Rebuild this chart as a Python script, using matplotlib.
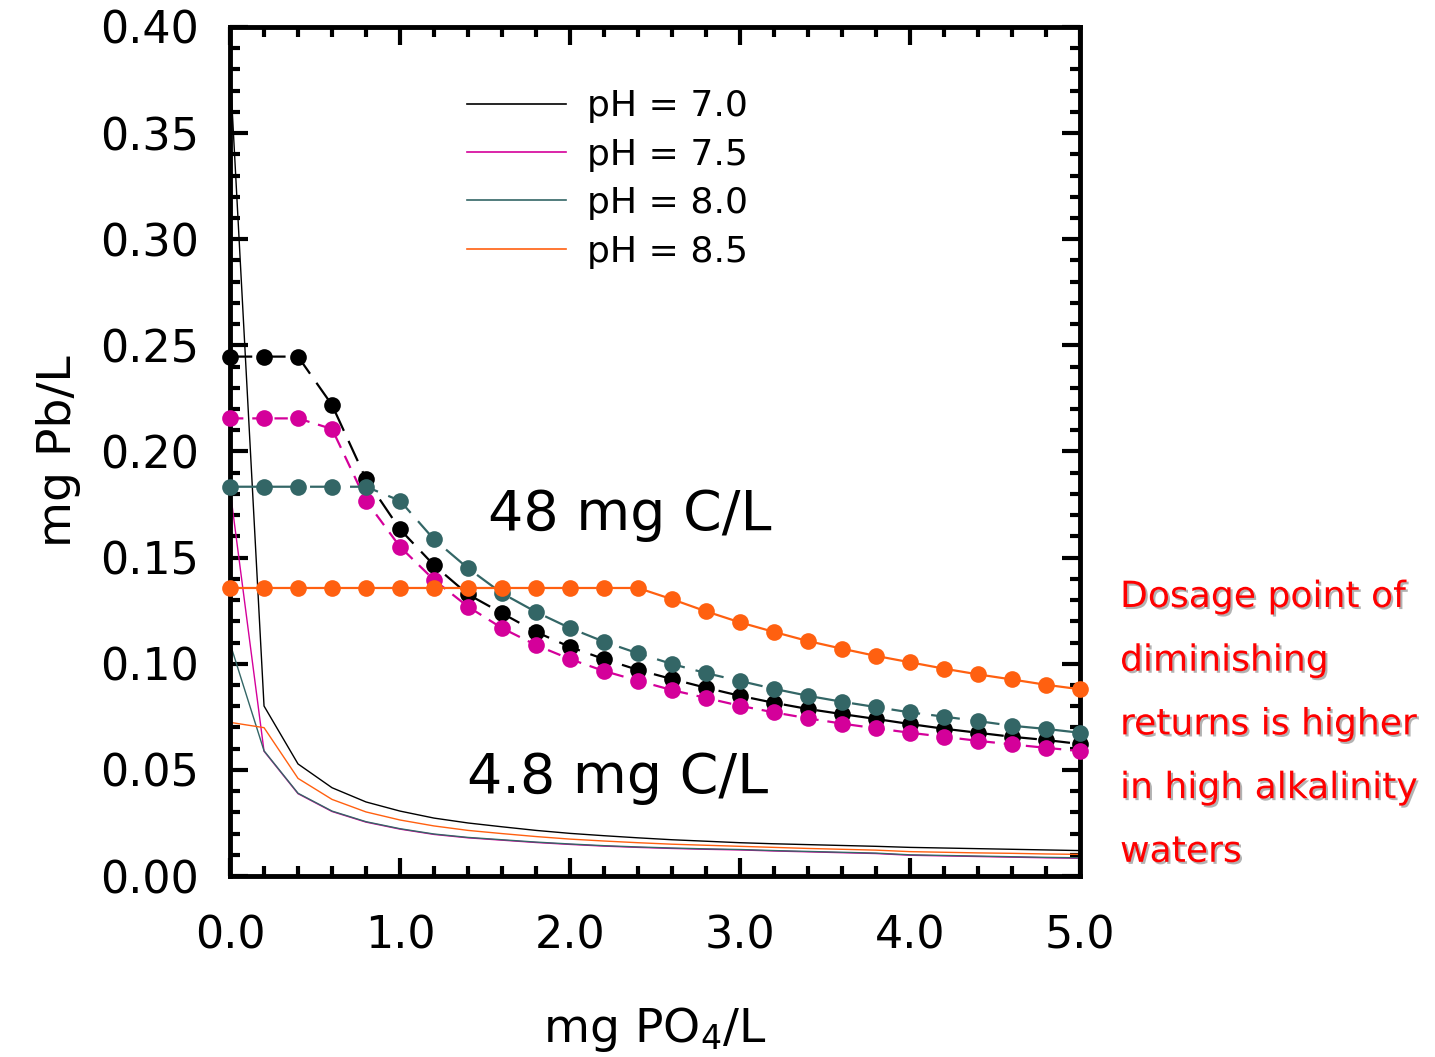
import matplotlib
matplotlib.use('Agg')
import matplotlib.pyplot as plt
import matplotlib.patheffects as pe
from matplotlib.ticker import MultipleLocator, FormatStrFormatter
from matplotlib.lines import Line2D

# Phosphate dose, mg PO4/L
dose = [0.0, 0.2, 0.4, 0.6, 0.8, 1.0, 1.2, 1.4, 1.6, 1.8, 2.0, 2.2, 2.4,
        2.6, 2.8, 3.0, 3.2, 3.4, 3.6, 3.8, 4.0, 4.2, 4.4, 4.6, 4.8, 5.0]

ph_labels = ['pH = 7.0', 'pH = 7.5', 'pH = 8.0', 'pH = 8.5']
colors = ['black', '#d4009a', '#336666', '#ff6010']

# Pb solubility, mg Pb/L, at 48 mg C/L (high alkalinity)
pb_high_70 = [0.2447, 0.2447, 0.2447, 0.2219, 0.1870, 0.1633, 0.1464, 0.1327, 0.1238,
              0.1150, 0.1079, 0.1022, 0.0971, 0.0928, 0.0887, 0.0849, 0.0816, 0.0787,
              0.0763, 0.0740, 0.0716, 0.0694, 0.0675, 0.0656, 0.0641, 0.0622]
pb_high_75 = [0.2156, 0.2156, 0.2156, 0.2106, 0.1768, 0.1551, 0.1395, 0.1269, 0.1168,
              0.1088, 0.1022, 0.0966, 0.0920, 0.0876, 0.0839, 0.0802, 0.0771, 0.0743,
              0.0718, 0.0696, 0.0675, 0.0656, 0.0637, 0.0620, 0.0604, 0.0589]
pb_high_80 = [0.1834, 0.1834, 0.1834, 0.1834, 0.1834, 0.1768, 0.1586, 0.1450, 0.1332,
              0.1244, 0.1168, 0.1104, 0.1049, 0.0999, 0.0956, 0.0919, 0.0882, 0.0849,
              0.0821, 0.0796, 0.0771, 0.0751, 0.0730, 0.0708, 0.0693, 0.0675]
pb_high_85 = [0.1357, 0.1357, 0.1357, 0.1357, 0.1357, 0.1357, 0.1357, 0.1357, 0.1357,
              0.1357, 0.1357, 0.1357, 0.1357, 0.1304, 0.1247, 0.1195, 0.1150, 0.1107,
              0.1071, 0.1037, 0.1007, 0.0977, 0.0950, 0.0926, 0.0901, 0.0880]

# Pb solubility, mg Pb/L, at 4.8 mg C/L (low alkalinity)
pb_low_70 = [0.3800, 0.0801, 0.0528, 0.0416, 0.0349, 0.0306, 0.0273, 0.0250, 0.0232,
             0.0215, 0.0201, 0.0190, 0.0180, 0.0171, 0.0164, 0.0157, 0.0152, 0.0148,
             0.0144, 0.0140, 0.0135, 0.0132, 0.0129, 0.0126, 0.0123, 0.0120]
pb_low_75 = [0.1820, 0.0588, 0.0388, 0.0304, 0.0254, 0.0221, 0.0196, 0.0180, 0.0169,
             0.0158, 0.0149, 0.0141, 0.0135, 0.0130, 0.0126, 0.0123, 0.0118, 0.0114,
             0.0110, 0.0106, 0.0098, 0.0095, 0.0092, 0.0089, 0.0086, 0.0084]
pb_low_80 = [0.1096, 0.0590, 0.0390, 0.0306, 0.0256, 0.0223, 0.0198, 0.0182, 0.0171,
             0.0160, 0.0151, 0.0143, 0.0137, 0.0132, 0.0128, 0.0125, 0.0120, 0.0116,
             0.0112, 0.0108, 0.0100, 0.0097, 0.0094, 0.0091, 0.0088, 0.0086]
pb_low_85 = [0.0724, 0.0699, 0.0460, 0.0361, 0.0302, 0.0264, 0.0236, 0.0215, 0.0200,
             0.0186, 0.0174, 0.0165, 0.0157, 0.0150, 0.0145, 0.0140, 0.0135, 0.0130,
             0.0126, 0.0122, 0.0115, 0.0112, 0.0109, 0.0107, 0.0104, 0.0102]

note_lines = ['Dosage point of', 'diminishing', 'returns is higher',
              'in high alkalinity', 'waters']

high_series = [pb_high_70, pb_high_75, pb_high_80, pb_high_85]
low_series = [pb_low_70, pb_low_75, pb_low_80, pb_low_85]
dash_styles = [(0, (10, 5)), (0, (6, 4)), (0, (13, 5)), '-']

plt.rcParams['font.family'] = ['DejaVu Sans']
plt.rcParams['mathtext.default'] = 'regular'

fig = plt.figure(figsize=(14.35, 10.57), dpi=100)
ax = fig.add_axes([0.1603, 0.1712, 0.5923, 0.8033])

for vals, c in zip(low_series, colors):
    ax.plot(dose, vals, color=c, lw=1.0, zorder=2)

for vals, c, ls in zip(high_series, colors, dash_styles):
    ax.plot(dose, vals, color=c, lw=1.6, ls=ls, marker='o', ms=12,
            markeredgewidth=0, zorder=3, clip_on=False)

ax.set_xlim(0, 5)
ax.set_ylim(0, 0.40)

ax.xaxis.set_major_locator(MultipleLocator(1.0))
ax.xaxis.set_minor_locator(MultipleLocator(0.2))
ax.yaxis.set_major_locator(MultipleLocator(0.05))
ax.yaxis.set_minor_locator(MultipleLocator(0.01))
ax.xaxis.set_major_formatter(FormatStrFormatter('%.1f'))
ax.yaxis.set_major_formatter(FormatStrFormatter('%.2f'))

ax.tick_params(which='both', direction='in', top=True, right=True, width=3)
ax.tick_params(which='major', length=13, labelsize=32)
ax.tick_params(which='minor', length=7)
ax.tick_params(axis='x', which='major', pad=28)
ax.tick_params(axis='y', which='major', pad=22)
for s in ax.spines.values():
    s.set_linewidth(3.5)

ax.set_xlabel('mg PO$_4$/L', fontsize=34, labelpad=34)
ax.set_ylabel('mg Pb/L', fontsize=34, labelpad=14)

ax.text(2.35, 0.170, '48 mg C/L', fontsize=40, ha='center', va='center')
ax.text(2.28, 0.046, '4.8 mg C/L', fontsize=40, ha='center', va='center')

handles = [Line2D([], [], color=c, lw=1.2) for c in colors]
ax.legend(handles, ph_labels, loc='upper left', bbox_to_anchor=(0.24, 0.965),
          frameon=False, fontsize=26, handlelength=2.75, handletextpad=0.6,
          labelspacing=0.4)

# red note to the right of the plot, with a soft grey shadow
shadow = [pe.withSimplePatchShadow(offset=(1.5, -1.5), shadow_rgbFace='grey', alpha=0.6)]
for i, line in enumerate(note_lines):
    fig.text(0.7805, 1 - (597 + 63.7 * i) / 1057, line, color='red', fontsize=26,
             ha='left', va='center', path_effects=shadow)

fig.savefig('out.png', dpi=100)
